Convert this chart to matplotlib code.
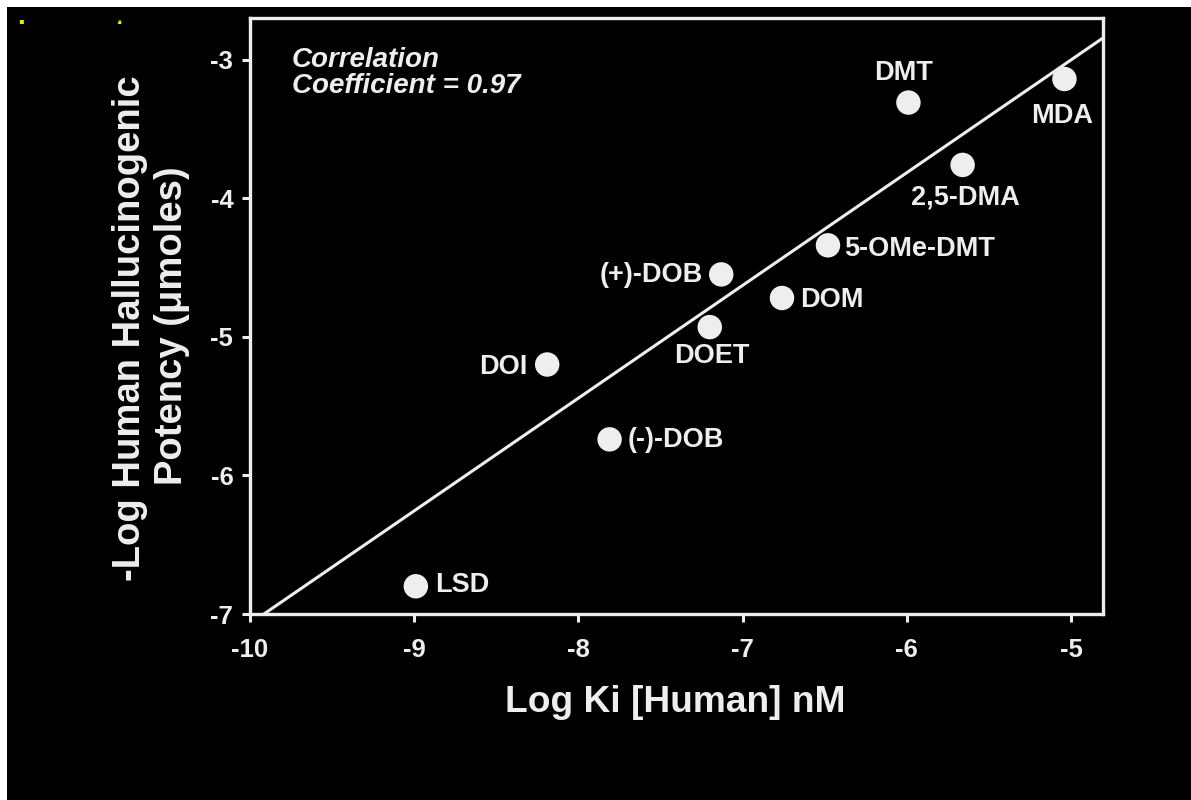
import matplotlib.pyplot as plt
from matplotlib.patches import Rectangle

plt.rcParams['font.family'] = ['Liberation Sans', 'DejaVu Sans']
plt.rcParams['axes.unicode_minus'] = False

# drug names with their binding affinity and hallucinogenic potency
drugs = ['LSD', 'DOI', '(-)-DOB', 'DOET', '(+)-DOB', 'DOM',
         '5-OMe-DMT', '2,5-DMA', 'DMT', 'MDA']
log_ki = [-8.99, -8.19, -7.81, -7.20, -7.13, -6.76, -6.48, -5.66, -5.99, -5.04]
log_potency = [-6.80, -5.20, -5.74, -4.93, -4.55, -4.72, -4.34, -3.76, -3.31, -3.14]

# regression line end points
fit_x = [-9.915, -4.80]
fit_y = [-7.0, -2.84]

x_ticks = [-10, -9, -8, -7, -6, -5]
y_ticks = [-7, -6, -5, -4, -3]

# label offsets in pixels (dx, dy) and alignment for each drug
label_pos = {
    'LSD': (19, 1, 'left'),
    'DOI': (-20, -2, 'right'),
    '(-)-DOB': (18, -1, 'left'),
    'DOET': (2, -29, 'center'),
    '(+)-DOB': (-18, -1, 'right'),
    'DOM': (18, -2, 'left'),
    '5-OMe-DMT': (16, -4, 'left'),
    '2,5-DMA': (3, -33, 'center'),
    'DMT': (-5, 30, 'center'),
    'MDA': (-2, -37, 'center'),
}

fg = '#eeeeee'
W, H = 1191, 800
fig = plt.figure(figsize=(W / 100, H / 100), dpi=100, facecolor='black')

# axes box in pixel coordinates
left, right, top, bottom = 250, 1103, 18, 614
ax = fig.add_axes([left / W, 1 - bottom / H, (right - left) / W, (bottom - top) / H])
ax.set_facecolor('black')
ax.set_xlim(-10, -4.805)
ax.set_ylim(-7, -2.70)

for s in ax.spines.values():
    s.set_color(fg)
    s.set_linewidth(2.4)

ax.set_xticks(x_ticks)
ax.set_yticks(y_ticks)
ax.tick_params(colors=fg, width=2.2, length=6, direction='out',
               labelsize=18.5)
ax.tick_params(axis='x', pad=11)
ax.tick_params(axis='y', pad=6)
for lbl in ax.get_xticklabels() + ax.get_yticklabels():
    lbl.set_fontweight('bold')

ax.plot(fit_x, fit_y, color=fg, lw=2.2, solid_capstyle='butt', clip_on=True)
ax.scatter(log_ki, log_potency, s=310, color=fg, edgecolors='none', zorder=3)

for name, xv, yv in zip(drugs, log_ki, log_potency):
    dx, dy, ha = label_pos[name]
    ax.annotate(name, (xv, yv), xytext=(dx * 0.72, dy * 0.72),
                textcoords='offset points', ha=ha, va='center',
                color=fg, fontsize=19.5, fontweight='bold')

fig.text(292 / W, 1 - 47 / H, 'Correlation\nCoefficient = 0.97',
         ha='left', va='top', color=fg, fontsize=20, fontweight='bold',
         fontstyle='italic', linespacing=1.0)

fig.text(675 / W, 1 - 703 / H, 'Log Ki [Human] nM', ha='center', va='center',
         color=fg, fontsize=26.7, fontweight='bold')
fig.text(130 / W, 1 - 328 / H, '-Log Human Hallucinogenic', ha='center',
         va='center', rotation=90, color=fg, fontsize=27.5, fontweight='bold')
fig.text(172 / W, 1 - 326 / H, 'Potency (\u03bcmoles)', ha='center',
         va='center', rotation=90, color=fg, fontsize=27.5, fontweight='bold')

# clipped yellow heading at the top left
fig.text(18 / W, 1 - 39 / H, 'Low potency', ha='left', va='baseline',
         color='#e6e600', fontsize=20, fontweight='bold')
fig.patches.append(Rectangle((6 / W, 1 - 50 / H), 200 / W, 26 / H,
                             transform=fig.transFigure, facecolor='black',
                             edgecolor='none', zorder=5))

# white frame on the top and left edges
fig.patches.append(Rectangle((0, 1 - 7 / H), 1, 7 / H, transform=fig.transFigure,
                             facecolor='white', edgecolor='none', zorder=6))
fig.patches.append(Rectangle((0, 0), 7 / W, 1, transform=fig.transFigure,
                             facecolor='white', edgecolor='none', zorder=6))

fig.savefig('out.png', dpi=100, facecolor='black')
